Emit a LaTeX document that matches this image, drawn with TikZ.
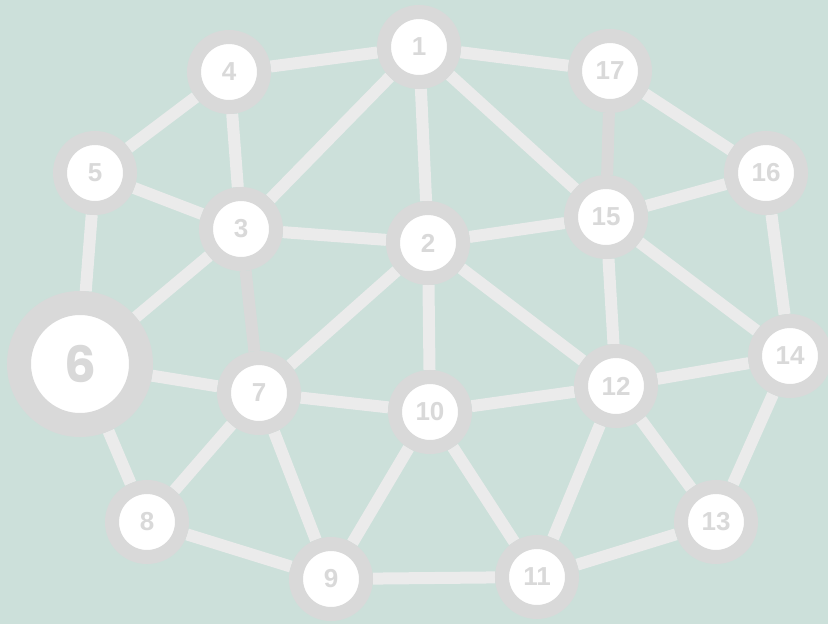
\documentclass[tikz,border=0pt]{standalone}
\usepackage{fontspec}
\setmainfont{Liberation Sans}
\newfontfamily\bigdigit{Poppins}
\usetikzlibrary{backgrounds}
\definecolor{bgteal}{HTML}{CCE0DA}
\definecolor{ringgray}{HTML}{D9D9D9}
\definecolor{edgegray}{HTML}{EBEBEB}

\begin{document}
\begin{tikzpicture}[x=1pt, y=-1pt,
  vert/.style={circle, draw=ringgray, line width=14pt, fill=white, minimum size=70pt, inner sep=0pt, text=ringgray, font=\fontsize{26}{26}\selectfont\bfseries},
  bigvert/.style={vert, line width=24pt, minimum size=122pt, font=\bigdigit\fontsize{50}{50}\selectfont\bfseries},
  link/.style={edgegray, line width=12pt},
  darklink/.style={ringgray, line width=12pt}]
\useasboundingbox (0,0) rectangle (828,624);
\node[vert] (n1) at (419,47) {1};
\node[vert] (n4) at (229,72) {4};
\node[vert] (n17) at (610,71) {17};
\node[vert] (n5) at (95,173) {5};
\node[vert] (n16) at (766,173) {16};
\node[vert] (n3) at (241,229) {3};
\node[vert] (n2) at (428,243) {2};
\node[vert] (n15) at (606,217) {15};
\node[bigvert] (n6) at (80,364) {6};
\node[vert] (n7) at (259,393) {7};
\node[vert] (n10) at (430,412) {10};
\node[vert] (n12) at (616,386) {12};
\node[vert] (n14) at (790,356) {14};
\node[vert] (n8) at (147,522) {8};
\node[vert] (n9) at (331,579) {9};
\node[vert] (n11) at (537,577) {11};
\node[vert] (n13) at (716,522) {13};
\begin{scope}[on background layer]
\fill[bgteal] (0,0) rectangle (828,624);
\foreach \a/\b in {1/4,1/17,1/3,1/2,1/15,4/5,4/3,17/16,5/3,5/6,3/2,3/6,
  2/15,2/7,2/10,2/12,15/16,15/12,15/14,16/14,6/7,6/8,7/10,7/8,7/9,
  10/9,10/11,10/12,12/14,12/11,12/13,14/13,8/9,9/11,11/13}
  \draw[link] (n\a) -- (n\b);
\draw[darklink] (n3) -- (n7);
\draw[darklink] (n17) -- (n15);
\end{scope}
\end{tikzpicture}
\end{document}
